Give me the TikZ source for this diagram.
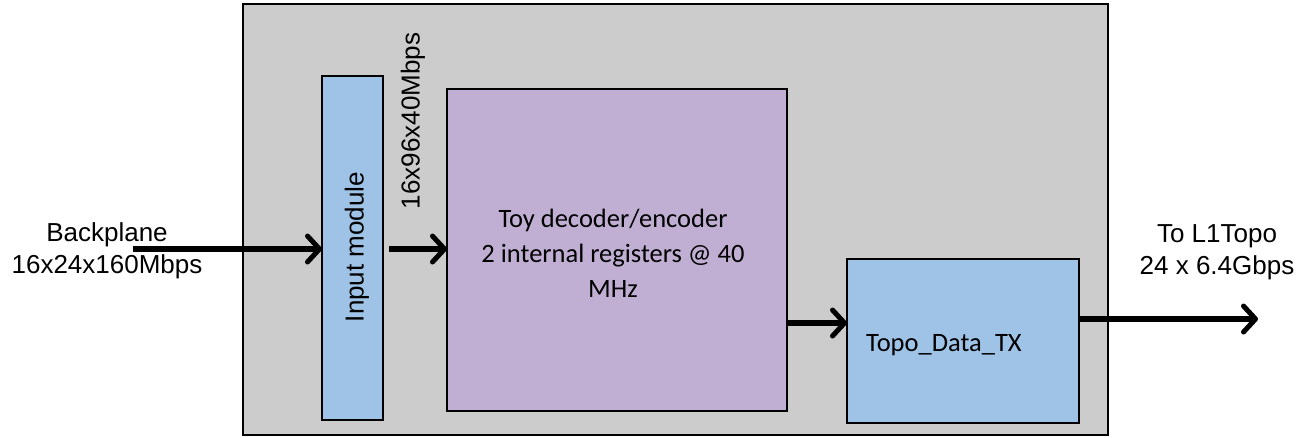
\documentclass[tikz,border=0pt]{standalone}
\usepackage{fontspec}
\setmainfont{Liberation Sans}
\newfontfamily\calfont{Carlito}
\usetikzlibrary{arrows.meta,calc}
\definecolor{boardgrey}{RGB}{204,204,204}
\definecolor{modblue}{RGB}{158,195,230}
\definecolor{modpurple}{RGB}{193,175,211}
\tikzset{
  board/.style={draw=black, line width=2pt, fill=boardgrey},
  module/.style={draw=black, line width=1.7pt, inner sep=0pt, outer sep=0pt},
  flow/.style={line width=5.5pt, -{Straight Barb[length=12pt,width=26pt,line width=5pt,line cap=round,line join=round]}},
  arial/.style={font=\fontsize{26}{32}\selectfont, inner sep=0pt},
  calibri/.style={font=\calfont\fontsize{26.5}{35}\selectfont, inner sep=0pt, align=center},
}
\begin{document}
\begin{tikzpicture}[x=1pt,y=-1pt]
\useasboundingbox (0,0) rectangle (1301,437);
% board outline
\draw[board] (243,4) rectangle (1108,435);
% modules
\node[module, fill=modblue, minimum width=61pt, minimum height=344pt] (in) at (352.5,248) {};
\node[arial, rotate=90] (inlbl) at (357,247) {Input module};
\node[module, fill=modpurple, minimum width=340pt, minimum height=322pt] (dec) at (617,250) {};
\node[calibri] (declbl) at (613,253) {Toy decoder/encoder\\2 internal registers @ 40\\MHz};
\node[module, fill=modblue, minimum width=232pt, minimum height=164pt] (tx) at (963,341) {};
\node[calibri, anchor=west] (txlbl) at (866,345) {Topo\_Data\_TX};
% labels
\node[arial, align=center] (bp) at (107,251) {Backplane\\16x24x160Mbps};
\node[arial, rotate=90] (rate) at (413,121) {16x96x40Mbps};
\node[arial, align=center] (l1) at (1217,252) {To L1Topo\\24 x 6.4Gbps};
% data flow
\coordinate (src) at (133,249);
\coordinate (mid) at (389,249);
\coordinate (dst) at (1258,319);
\draw[flow] (src) -- (in.west |- src);
\draw[flow] (mid) -- (dec.west |- mid);
\draw[flow] ($(dec.east)+(0,73)$) -- ($(tx.west |- dec.east)+(0,73)$);
\draw[flow] (tx.east |- dst) -- (dst);
\end{tikzpicture}
\end{document}
